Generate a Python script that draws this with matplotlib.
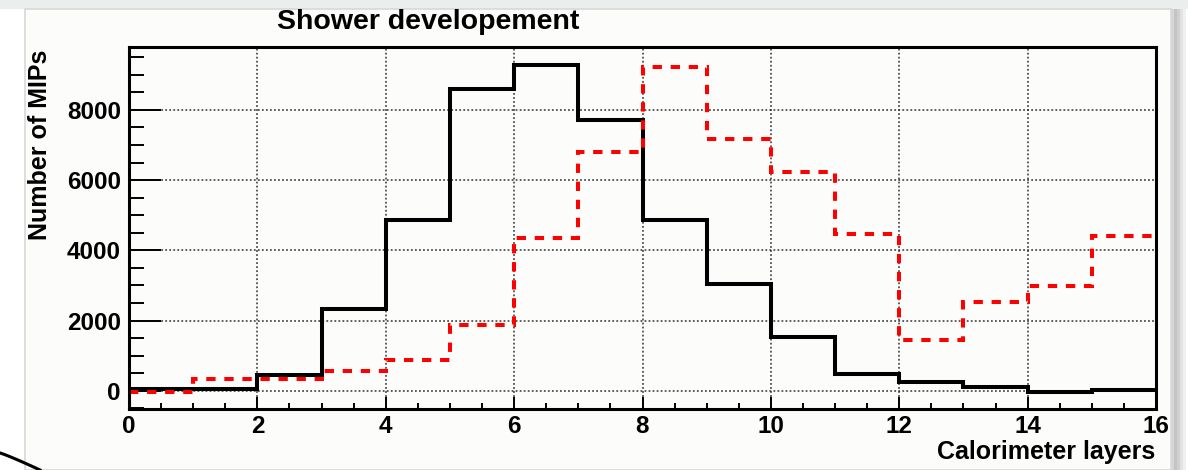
import numpy as np
import matplotlib
matplotlib.use("Agg")
import matplotlib.pyplot as plt
from matplotlib.patches import Rectangle
from matplotlib.lines import Line2D
from matplotlib.ticker import MultipleLocator

plt.rcParams['font.family'] = ['Liberation Sans', 'DejaVu Sans']
plt.rcParams['font.weight'] = 'bold'
plt.rcParams['lines.scale_dashes'] = False

# Layer edges and energy deposited per layer (number of MIPs)
layer_edges = np.arange(0, 17)
mips_black = [40, 40, 450, 2330, 4850, 8600, 9280, 7700, 4850, 3030, 1540, 470, 260, 100, -45, 10]
mips_red = [-30, 335, 325, 560, 875, 1880, 4350, 6800, 9230, 7180, 6230, 4470, 1450, 2530, 2990, 4420]
x_ticks = [0, 2, 4, 6, 8, 10, 12, 14, 16]
y_ticks = [0, 2000, 4000, 6000, 8000]

W, H = 1188, 470
fig = plt.figure(figsize=(W / 100, H / 100), dpi=100, facecolor='white')

def px(x, y):
    return x / W, 1 - y / H

# canvas panel with a soft shadow
fig.add_artist(Rectangle((0, 1 - 9 / H), 1, 9 / H, transform=fig.transFigure,
                         facecolor='#eceeee', edgecolor='none', zorder=0))
for i, c in enumerate(['#d6d6d6', '#c4c4c4', '#cfcfcf', '#e2e2e2', '#f0f0f0']):
    fig.add_artist(Rectangle(((1171 + 3 * i) / W, 0), 3 / W, 1 - 9 / H,
                             transform=fig.transFigure, facecolor=c,
                             edgecolor='none', zorder=0))
fig.add_artist(Rectangle(((25) / W, 0), (1171 - 25) / W, 1 - 9 / H,
                         transform=fig.transFigure, facecolor='#fcfcfa',
                         edgecolor='#d8d8d8', linewidth=1.2, zorder=0))
fig.add_artist(Rectangle((0, 0), 24 / W, 1 - 9 / H, transform=fig.transFigure,
                         facecolor='white', edgecolor='none', zorder=0))
tt = np.linspace(0, 1, 30)
cx = 40 * tt
cy = 453 + 17 * tt ** 1.1
fig.add_artist(Line2D(cx / W, 1 - cy / H, transform=fig.transFigure,
                      color='black', linewidth=2.2, zorder=1))

ax = fig.add_axes([129 / W, 1 - 409 / H, (1156 - 129) / W, (409 - 47) / H])
ax.set_facecolor('#fcfcfa')
ymin, ymax = -520, 9790
ax.set_xlim(0, 16)
ax.set_ylim(ymin, ymax)

# histograms rise from the frame bottom at the first edge
black_kw = dict(color='black', linewidth=2.9, zorder=3)
red_kw = dict(color='#ff0000', linewidth=2.9, linestyle=(0, (6.7, 6.3)), zorder=4)
ax.stairs(mips_black, layer_edges, baseline=None, **black_kw)
ax.vlines(layer_edges[0], ymin, mips_black[0], **black_kw)
ax.stairs(mips_red, layer_edges, baseline=None, **red_kw)
ax.vlines(layer_edges[0], ymin, mips_red[0], **red_kw)

ax.set_xticks(x_ticks)
ax.set_yticks(y_ticks)
ax.xaxis.set_minor_locator(MultipleLocator(0.5))
ax.yaxis.set_minor_locator(MultipleLocator(500))
ax.tick_params(axis='y', which='major', direction='in', length=23, width=1.4,
               pad=5.8, labelsize=17.5)
ax.tick_params(axis='y', which='minor', direction='in', length=10.8, width=1.4)
ax.tick_params(axis='x', which='major', direction='in', length=8.6, width=1.4,
               pad=4, labelsize=17.5)
ax.tick_params(axis='x', which='minor', direction='in', length=4.3, width=1.4)
for lab in ax.get_xticklabels() + ax.get_yticklabels():
    lab.set_fontweight('bold')

ax.grid(True, which='major', color='#333333', linewidth=1.1,
        linestyle=(0, (1.3, 1.6)), zorder=1)
for s in ax.spines.values():
    s.set_linewidth(2.2)
    s.set_zorder(5)

fig.text(*px(428.5, 22), 'Shower developement', ha='center', va='center',
         fontsize=20.5, fontweight='bold')
fig.text(*px(1155, 452), 'Calorimeter layers', ha='right', va='center',
         fontsize=18, fontweight='bold')
fig.text(*px(40, 50), 'Number of MIPs', ha='center', va='top', rotation=90,
         fontsize=18, fontweight='bold')

fig.savefig('out.png', dpi=100, facecolor='white')
